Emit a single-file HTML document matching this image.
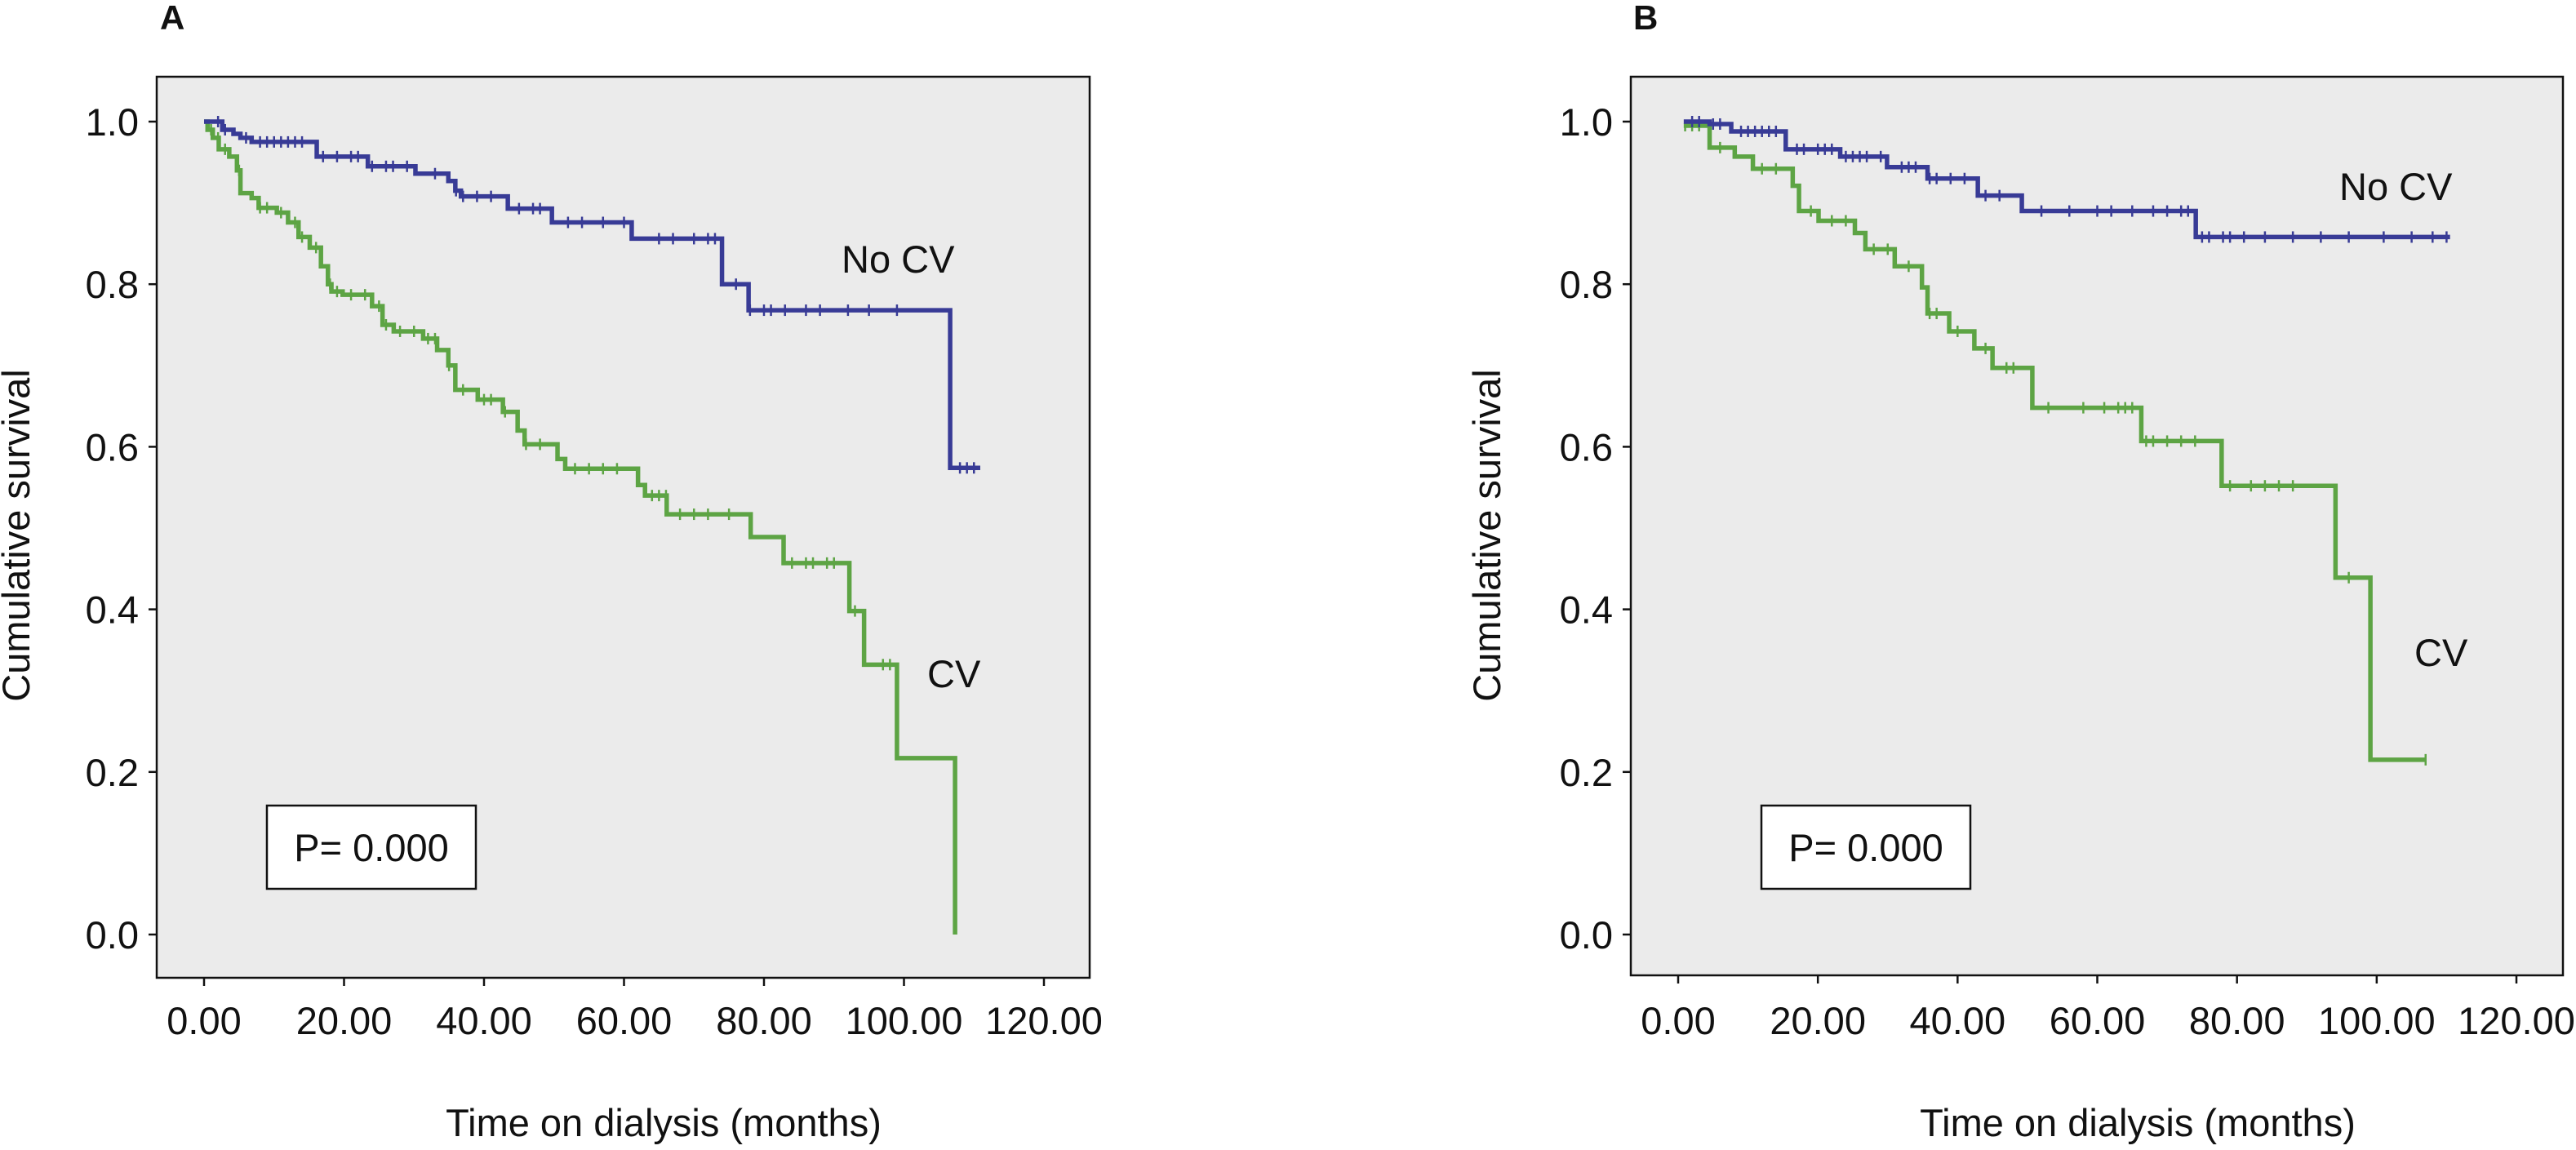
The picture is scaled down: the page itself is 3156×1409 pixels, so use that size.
<!DOCTYPE html>
<html><head><meta charset="utf-8"><style>
html,body{margin:0;padding:0;background:#fff;}
svg{display:block;font-family:"Liberation Sans",Arial,sans-serif;}
</style></head><body>
<svg id="fig" width="3156" height="1409" viewBox="0 0 3156 1409"></svg>
<script>
// ---- Panel A data ----
const aNoCvTimes = [0, 2.6, 4.2, 5.2, 6.8, 7.8, 16.1, 23.4, 30.2, 34.9, 35.9, 36.7, 43.4, 49.7, 61.1, 74.0, 77.8, 106.6];
const aNoCvSurv  = [1.0, 0.99, 0.985, 0.98, 0.975, 0.975, 0.957, 0.945, 0.936, 0.927, 0.915, 0.908, 0.893, 0.876, 0.856, 0.80, 0.768, 0.574];
const aNoCvEnd = 110.9;
const aCvTimes = [0, 0.5, 1.25, 2.1, 3.6, 4.7, 5.2, 6.8, 7.8, 10.4, 12.0, 13.5, 15.1, 16.7, 17.7, 18.2, 19.8, 24.0, 25.5, 27.1, 31.3, 33.3, 34.9, 35.9, 39.1, 42.7, 44.8, 45.8, 50.5, 51.6, 62.0, 63.0, 66.1, 78.1, 82.8, 92.2, 94.3, 99.0, 107.3];
const aCvSurv  = [1.0, 0.99, 0.98, 0.966, 0.957, 0.94, 0.912, 0.906, 0.894, 0.888, 0.876, 0.858, 0.845, 0.822, 0.80, 0.791, 0.787, 0.773, 0.75, 0.742, 0.733, 0.719, 0.70, 0.67, 0.658, 0.643, 0.62, 0.603, 0.585, 0.573, 0.553, 0.54, 0.517, 0.489, 0.457, 0.398, 0.332, 0.217, 0.0];
const aCvEnd = 107.3;
const aNoCvCensor = [2,3,6,8,9,10,11,12,13,14,17,19,21,22,24,26,27,29,33,36,37,39,41,45,47,48,52,54,57,60,65,67,70,72,73,76,78,80,81,83,86,88,92,95,99,108,109,110];
const aCvCensor = [1,2,3,5,8,9,11,13,14,16,18,19,21,23,25,26,28,30,32,33,35,37,40,41,43,46,48,53,55,57,59,64,65,66,68,70,72,75,84,86,87,89,90,93,97,98];
// ---- Panel B data ----
const bNoCvTimes = [0.8, 4.5, 7.6, 15.4, 23.2, 29.9, 35.7, 42.9, 49.2, 74.1];
const bNoCvSurv  = [1.0, 0.997, 0.988, 0.966, 0.957, 0.944, 0.93, 0.909, 0.89, 0.858];
const bNoCvEnd = 110.5;
const bCvTimes = [0.8, 4.5, 8.1, 10.7, 16.4, 17.3, 20.1, 25.3, 26.8, 31.0, 34.9, 35.7, 38.8, 42.4, 45.0, 50.7, 66.3, 77.8, 94.1, 99.1];
const bCvSurv  = [0.995, 0.968, 0.957, 0.942, 0.921, 0.89, 0.878, 0.863, 0.843, 0.822, 0.796, 0.764, 0.742, 0.721, 0.697, 0.648, 0.607, 0.552, 0.439, 0.215];
const bCvEnd = 107.1;
const bNoCvCensor = [2,3,5,6,9,10,11,12,13,14,17,18,20,21,22,24,25,26,27,29,32,33,34,36,37,39,41,44,46,52,56,60,62,65,68,70,72,73,75,76,78,79,81,84,88,92,96,101,105,108,110];
const bCvCensor = [1,2,3,6,12,14,19,22,24,28,30,33,36,37,40,44,47,48,53,58,61,63,64,65,67,68,70,72,74,79,82,84,86,88,96,107];
const xTicks = [0,20,40,60,80,100,120];
const xTickLabels = ["0.00","20.00","40.00","60.00","80.00","100.00","120.00"];
const yTicks = [0,0.2,0.4,0.6,0.8,1.0];
const yTickLabels = ["0.0","0.2","0.4","0.6","0.8","1.0"];

const NS="http://www.w3.org/2000/svg";
const svg=document.getElementById('fig');
const FS=47;
function mk(tag,attrs,parent,txt){const e=document.createElementNS(NS,tag);for(const k in attrs)e.setAttribute(k,attrs[k]);if(txt!==undefined)e.textContent=txt;(parent||svg).appendChild(e);return e;}

function panel(p){
  const g=mk('g',{});
  
  
  const X=v=>p.x0+(v/120)*(p.x120-p.x0);
  const Y=v=>p.y0-(v)*(p.y0-p.y1);
  const bg=mk('rect',{x:p.L,y:p.T,width:p.R-p.L,height:p.B-p.T,fill:'#ebebeb',stroke:'#111','stroke-width':2.5},g);
  
  
  const lab=mk('text',{x:p.labX,y:36,'font-size':42,'font-weight':'bold',fill:'#111'},g,p.id);
  
  
  xTicks.forEach((t,i)=>{
    mk('line',{x1:X(t),x2:X(t),y1:p.B,y2:p.B+10,stroke:'#111','stroke-width':2.5},g);
    const tl=mk('text',{x:X(t),y:1267,'text-anchor':'middle','font-size':FS,fill:'#111'},g,xTickLabels[i]);
    
    
  });
  yTicks.forEach((t,i)=>{
    mk('line',{x1:p.L-10,x2:p.L,y1:Y(t),y2:Y(t),stroke:'#111','stroke-width':2.5},g);
    const tl=mk('text',{x:p.L-22,y:Y(t)+17,'text-anchor':'end','font-size':FS,fill:'#111'},g,yTickLabels[i]);
    
    
  });
  const xt=mk('text',{x:p.xtX,y:1392,'text-anchor':'middle','font-size':FS,fill:'#111'},g,'Time on dialysis (months)');
  
  
  const yt=mk('text',{x:0,y:0,transform:`translate(${p.ytX},656) rotate(-90)`,'text-anchor':'middle','font-size':FS,fill:'#111'},g,'Cumulative survival');
  
  
  function series(times,surv,end,censor,color,name){
    let d=`M${X(times[0])},${Y(surv[0])}`;
    for(let i=1;i<times.length;i++){d+=` H${X(times[i])} V${Y(surv[i])}`;}
    d+=` H${X(end)}`;
    const path=mk('path',{d:d,fill:'none',stroke:color,'stroke-width':5.5},g);
    
    
    censor.forEach(c=>{
      if(c>end)return;
      let s=surv[0];
      for(let i=0;i<times.length;i++){if(times[i]<=c)s=surv[i];}
      const m=mk('line',{x1:X(c),x2:X(c),y1:Y(s)-7,y2:Y(s)+7,stroke:color,'stroke-width':2.5},g);
      
      
    });
  }
  series(p.cvT,p.cvS,p.cvE,p.cvC,'#5da444','cv');
  series(p.ncT,p.ncS,p.ncE,p.ncC,'#383b96','no-cv');
  const n1=mk('text',{x:p.ncLX,y:p.ncLY,'font-size':FS,fill:'#111'},g,'No CV');
  
  
  const n2=mk('text',{x:p.cvLX,y:p.cvLY,'font-size':FS,fill:'#111'},g,'CV');
  
  
  const pb=mk('rect',{x:p.pbX,y:987,width:256,height:102,fill:'#fff',stroke:'#111','stroke-width':2.5},g);
  
  
  const pt=mk('text',{x:p.pbX+128,y:1055,'text-anchor':'middle','font-size':FS,fill:'#111'},g,'P= 0.000');
  
  
}
panel({id:'A',L:192,R:1335,T:94,B:1198,x0:250,x120:1279,y0:1145,y1:149,labX:196,xtX:813,ytX:36,
  ncT:aNoCvTimes,ncS:aNoCvSurv,ncE:aNoCvEnd,ncC:aNoCvCensor,cvT:aCvTimes,cvS:aCvSurv,cvE:aCvEnd,cvC:aCvCensor,
  ncLX:1031,ncLY:334,cvLX:1136,cvLY:842,pbX:327});
panel({id:'B',L:1998,R:3140,T:94,B:1195,x0:2056,x120:3083,y0:1145,y1:149,labX:2001,xtX:2619,ytX:1838,
  ncT:bNoCvTimes,ncS:bNoCvSurv,ncE:bNoCvEnd,ncC:bNoCvCensor,cvT:bCvTimes,cvS:bCvSurv,cvE:bCvEnd,cvC:bCvCensor,
  ncLX:2866,ncLY:245,cvLX:2958,cvLY:816,pbX:2158});
</script>
</body></html>
